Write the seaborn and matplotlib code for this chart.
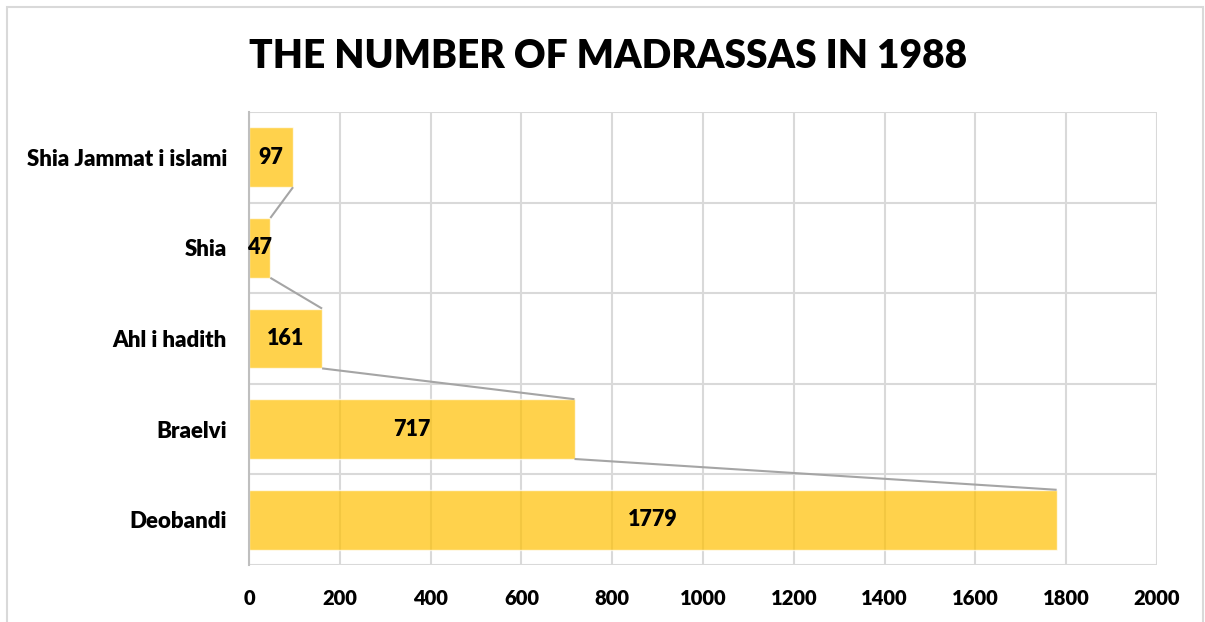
import matplotlib
matplotlib.use("Agg")
import matplotlib.pyplot as plt
import seaborn as sns
import pandas as pd
from matplotlib.patches import Rectangle
from matplotlib.ticker import MultipleLocator

categories = ["Shia Jammat i islami", "Shia", "Ahl i hadith", "Braelvi", "Deobandi"]
values = [97, 47, 161, 717, 1779]
x_ticks = [0, 200, 400, 600, 800, 1000, 1200, 1400, 1600, 1800, 2000]
title = "THE NUMBER OF MADRASSAS IN 1988"

sns.set_theme(style="white")
plt.rcParams["font.family"] = ["Lato", "DejaVu Sans"]

df = pd.DataFrame({"category": categories, "value": values})

fig = plt.figure(figsize=(12.05, 6.22), dpi=100)
ax = fig.add_axes([249 / 1205, 57 / 622, 908 / 1205, 453 / 622])

sns.barplot(data=df, x="value", y="category", order=categories, color="#FFC000",
            alpha=0.7, width=0.66, orient="h", ax=ax, saturation=1, zorder=3)

W = "heavy"
ax.set_xlim(0, 2000)
ax.set_ylim(4.5, -0.5)
ax.set_xticks(x_ticks)
ax.set_xticklabels([str(t) for t in x_ticks], fontsize=14.5, fontweight=W, color="black")
ax.set_yticks(range(len(categories)))
ax.set_yticklabels(categories, fontsize=16, fontweight=W, color="black")
ax.yaxis.set_minor_locator(MultipleLocator(1, offset=0.5))
ax.tick_params(axis="both", which="both", length=0)
ax.tick_params(axis="x", pad=17)
ax.tick_params(axis="y", pad=16)
ax.set_xlabel("")
ax.set_ylabel("")

ax.grid(True, axis="x", which="major", color="#D9D9D9", linewidth=1.5, zorder=1)
ax.grid(True, axis="y", which="minor", color="#D9D9D9", linewidth=1.5, zorder=1)
ax.grid(False, axis="y", which="major")
for s in ["top", "right", "bottom"]:
    ax.spines[s].set_visible(False)
ax.spines["left"].set_color("#BFBFBF")
ax.spines["left"].set_linewidth(1.5)
ax.spines["left"].set_zorder(4)

patches = sorted(ax.patches, key=lambda p: p.get_y())
for p in patches:
    ax.text(p.get_width() / 2, p.get_y() + p.get_height() / 2, f"{int(round(p.get_width()))}",
            ha="center", va="center", fontsize=15.5, fontweight=W, color="black", zorder=5)

# series lines: from bottom-right of upper bar to top-right of the bar below
for upper, lower in zip(patches[:-1], patches[1:]):
    ax.plot([upper.get_width(), lower.get_width()],
            [upper.get_y() + upper.get_height(), lower.get_y()],
            color="#A5A5A5", linewidth=1.5, zorder=4, solid_capstyle="butt")

fig.text(608 / 1205, 1 - 56 / 622, title, ha="center", va="center",
         fontsize=28, fontweight=W, color="black")

fig.patches.append(Rectangle((7 / 1205, -0.1), 1196 / 1205, 1 - 7 / 622 + 0.1,
                             transform=fig.transFigure, fill=False,
                             edgecolor="#D9D9D9", linewidth=1.5))

fig.savefig("out.png", dpi=100)
